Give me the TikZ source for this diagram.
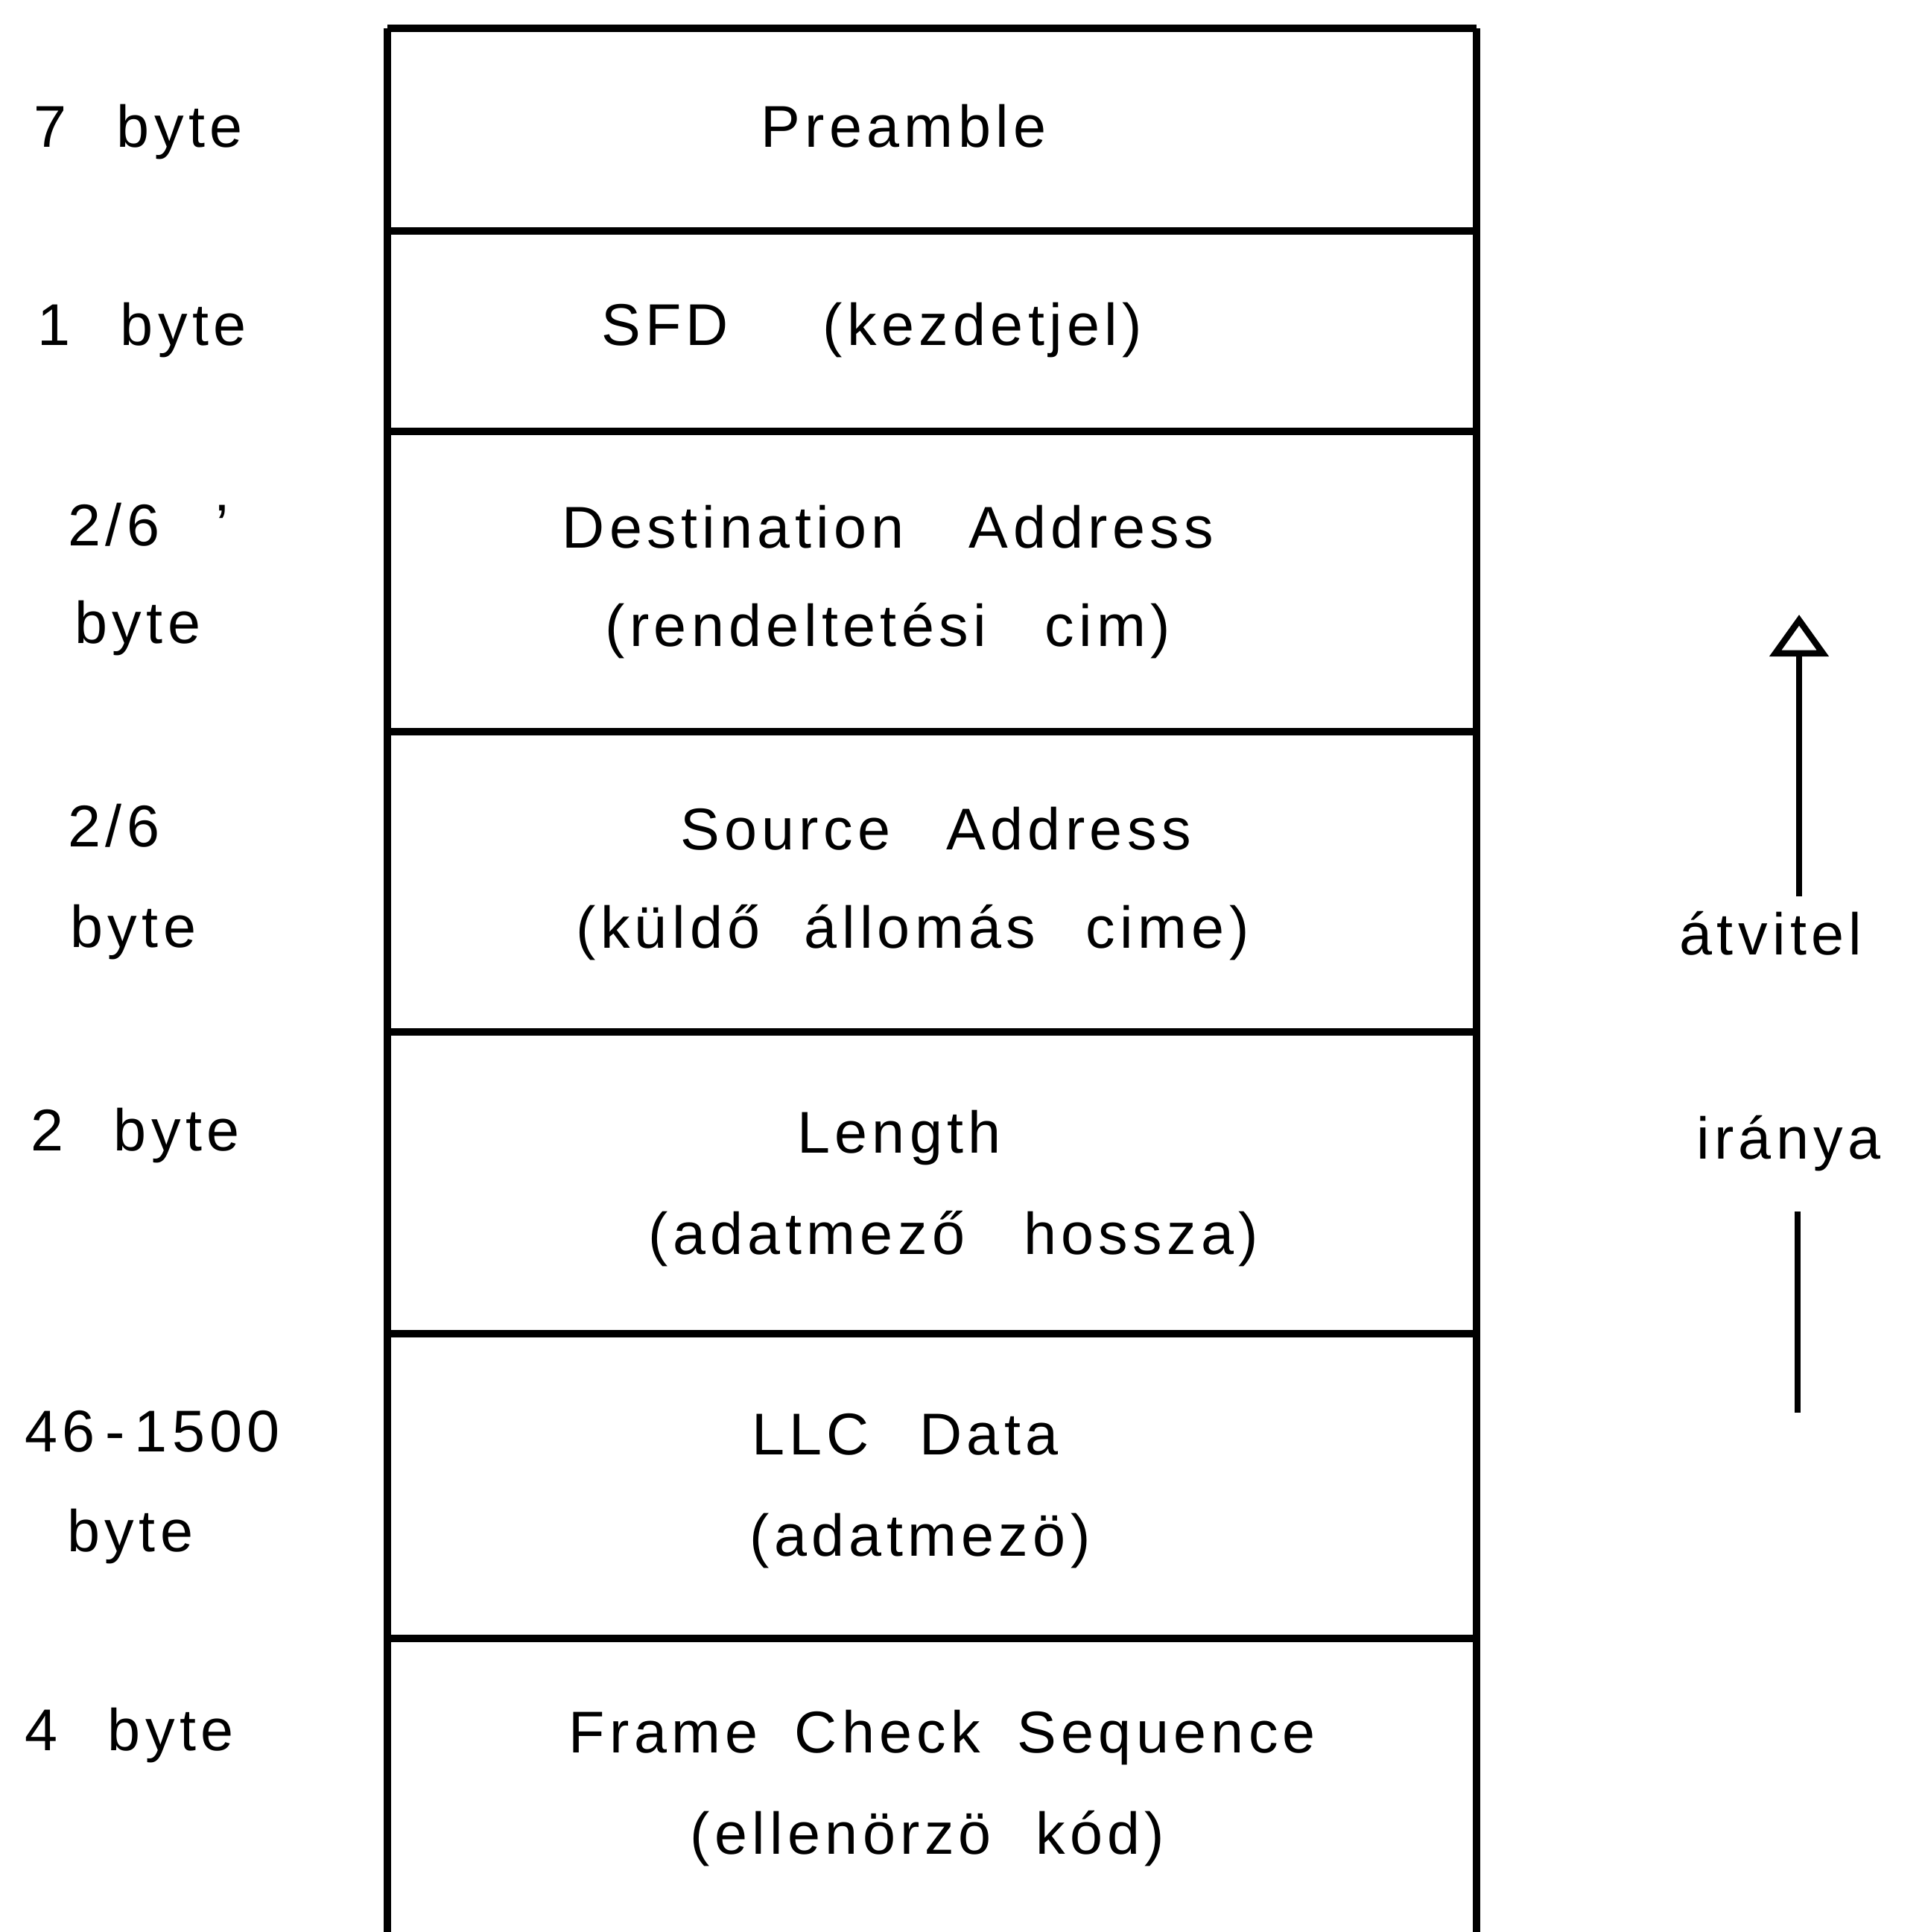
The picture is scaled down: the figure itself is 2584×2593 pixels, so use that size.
\documentclass[tikz,border=0pt]{standalone}
\usepackage{fontspec}
\setmainfont[LetterSpace=8]{Liberation Sans}
\usetikzlibrary{arrows.meta}
\begin{document}
\begin{tikzpicture}[x=0.01cm,y=-0.01cm,
  rule/.style={line width=2.6pt},
  txt/.style={inner sep=0pt,font=\fontsize{22.5}{27}\selectfont},
  field/.style={txt,anchor=base},
  size/.style={txt,anchor=base west},
  dir/.style={txt,anchor=base},
  flow/.style={line width=2.4pt},
  flowhead/.style={flow,-{Triangle[open,length=0.56cm,width=0.78cm,line width=2.4pt]}}]
\path[use as bounding box] (0,0) rectangle (2584,2593);

% frame outline and field separators
\coordinate (tl) at (520,38);   \coordinate (tr) at (1982,38);
\coordinate (bl) at (520,2593); \coordinate (br) at (1982,2593);
\draw[rule] (tl) -- (bl);
\draw[rule] (tr) -- (br);
\foreach \y/\n in {38/0,310/1,579/2,982/3,1385/4,1790/5,2199/6}{
  \coordinate (l\n) at (520,\y);
  \coordinate (r\n) at (1982,\y);
  \draw[rule] (l\n) -- (r\n);
}

% field names
\node[field] (pre)  at (1213,197)  {Preamble};
\node[field] (sfd)  at (1170,463)  {SFD\hspace{1.6em}(kezdetjel)};
\node[field] (da)   at (1192,735)  {Destination\hspace{1.1em}Address};
\node[field] (dah)  at (1192,867)  {(rendeltetési\hspace{1.0em}cim)};
\node[field] (sa)   at (1256,1140) {Source\hspace{0.95em}Address};
\node[field] (sah)  at (1225,1272) {(küldő\hspace{0.75em}állomás\hspace{0.85em}cime)};
\node[field] (len)  at (1207,1547) {Length};
\node[field] (lenh) at (1280,1683) {(adatmező\hspace{1.0em}hossza)};
\node[field] (llc)  at (1215,1952) {LLC\hspace{0.85em}Data};
\node[field] (llch) at (1235,2088) {(adatmezö)};
\node[field] (fcs)  at (1265,2352) {Frame\hspace{0.62em}Check\hspace{0.62em}Sequence};
\node[field] (fcsh) at (1245,2488) {(ellenörzö\hspace{0.75em}kód)};

% field sizes
\node[size] (s1)  at (45,197)   {7\hspace{0.85em}byte};
\node[size] (s2)  at (50,463)   {1\hspace{0.85em}byte};
\node[size] (s3)  at (91,732)   {2/6\hspace{0.95em}\char"0027};
\node[size] (s3b) at (100,863)  {byte};
\node[size] (s4)  at (91,1136)  {2/6};
\node[size] (s4b) at (94,1271)  {byte};
\node[size] (s5)  at (41,1544)  {2\hspace{0.85em}byte};
\node[size] (s6)  at (33,1948)  {46\,-\,1500};
\node[size] (s6b) at (90,2082)  {byte};
\node[size] (s7)  at (33,2349)  {4\hspace{0.85em}byte};

% direction of transmission
\node[dir] (atv) at (2377,1281) {átvitel};
\node[dir] (ir)  at (2401,1555) {iránya};
\coordinate (up0) at (2415,1203);
\coordinate (up1) at (2415,825);
\coordinate (lo0) at (2413,1896);
\coordinate (lo1) at (2413,1626);
\draw[flowhead] (up0) -- (up1);
\draw[flow] (lo0) -- (lo1);
\end{tikzpicture}
\end{document}
